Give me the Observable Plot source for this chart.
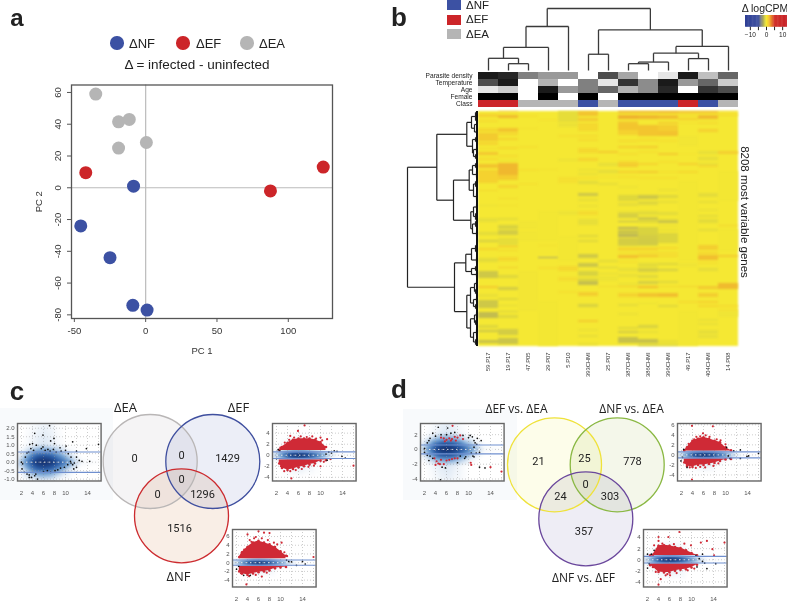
<!DOCTYPE html>
<html><head><meta charset="utf-8">
<script src="https://cdn.jsdelivr.net/npm/d3@7"></script>
<script src="https://cdn.jsdelivr.net/npm/@observablehq/plot@0.6"></script>
<style>
html,body{margin:0;padding:0;background:#fff}
#page{position:relative;width:787px;height:607px;overflow:hidden;font-family:"Liberation Sans",sans-serif;filter:blur(.3px)}
.t{position:absolute;white-space:nowrap;transform:translate(-50%,-50%);line-height:1}
#page svg{position:absolute;background:transparent;overflow:visible}
</style></head><body><div id="page"></div>
<script>
// ---------- panel a ----------
const pcNF=[[-8.5,1],[-45.5,-24],[-25,-44],[-9,-74],[1,-77]];
const pcEF=[[-42,9.5],[87.5,-2],[124.5,13]];
const pcEA=[[-35,59],[-11.5,43],[-19,41.5],[-19,25],[0.5,28.5]];
const classColor={NF:"#3c51a3",EF:"#cc2529",EA:"#b5b5b5"};

// ---------- panel b ----------
const samples=["59.P17","19.P17","47.P05","29.P07","5.P10","393CHMI","25.P07","387CHMI","386CHMI","396CHMI","49.P17","404CHMI","14.P08"];
const trackNames=["Parasite density","Temperature","Age","Female","Class"];
const parasite=[.9,.85,.5,.4,.4,0,.7,.35,0,.1,.9,.25,.6];
const temperature=[.7,.9,0,.3,0,.5,.1,.8,.45,.9,.4,.6,.2];
const age=[.1,.2,0,.9,.4,.5,.6,.3,.45,.85,0,.8,.7];
const female=[1,1,0,1,0,1,0,1,1,1,1,1,1];
const sampleClass=["EF","EF","EA","EA","EA","NF","EA","NF","NF","NF","EF","NF","EA"];
const heatDomain=[-13,-5,-3,-2,-1,0,1,2,3,5,13];
const heatRange=["#2e3f95","#3f51a0","#8e8e78","#aba85c","#d4d040","#f5e833","#f5d22e","#f0ad2c","#e8862c","#d2322b","#c62127"];
// stripes: [first row bin, last row bin, delta logCPM]; bins not listed are about 0
const s59P17=[[3,6,1.3],[9,11,.8],[17,21,1],[22,30,1.6],[31,34,1.2],[37,38,.8],[41,44,1.7],[47,49,.9],[53,57,1.8],[59,72,1.3],[79,80,1],[94,95,-.5],[107,111,-.6],[121,124,-.8],[129,131,-1.3],[137,139,1.2],[147,151,-.8],[160,167,-1.6],[175,177,1.6],[183,186,-.5],[189,197,-1.6],[201,207,-2],[214,217,-1],[219,221,-1.6],[229,232,-1.8]];
const s19P17=[[0,1,1.5],[4,7,2.2],[17,21,1.8],[22,24,1.2],[27,29,1.2],[36,38,1],[44,46,.8],[49,50,-.5],[52,64,2.3],[64,69,1.5],[74,77,1.2],[87,88,.8],[94,95,.5],[107,109,-.8],[114,118,-1.2],[119,124,-1.4],[127,134,-.7],[135,136,2],[139,140,1],[146,150,1],[156,157,1.4],[164,167,-1],[176,179,-1.4],[187,189,-1],[194,195,-.8],[200,201,-1.2],[204,207,-1],[218,224,-1.4],[227,233,-1.7]];
const s47P05=[[4,6,.6],[17,18,.6],[35,37,.5],[58,60,.6],[72,74,.4],[110,118,-.15],[120,130,-.15],[160,200,-.12]];
const s29P07=[[8,10,.3],[58,59,.5],[100,130,-.1],[134,135,.5],[146,147,-3.2],[156,158,.7],[190,235,-.08]];
const s5P10=[[0,11,-.7],[12,16,-.4],[24,26,.5],[48,50,-.4],[66,72,.6],[100,104,-.3],[125,150,-.1],[155,160,1],[166,170,.7],[180,182,.5]];
const s393=[[0,5,1.8],[7,10,1.6],[12,20,1],[24,26,.8],[28,30,.9],[37,42,1],[47,50,1.2],[58,60,-.4],[62,64,-.5],[66,68,.6],[70,73,-.8],[82,85,-1.6],[88,90,-.6],[94,96,-.4],[100,104,.8],[108,114,-.6],[124,126,-.9],[129,131,-.9],[143,147,-1.5],[152,156,-1.6],[160,165,-1.2],[167,170,-1],[170,174,-1.9],[181,185,1.4],[193,196,-1.2],[209,211,1.5],[218,220,-.4],[224,226,-.6],[232,234,-.5]];
const s25P07=[[40,42,1.5],[52,55,-.6],[59,62,-.7],[65,67,.3],[72,74,-.6],[149,151,-.8],[156,157,-1.2],[162,163,-.7],[165,170,-.3],[175,176,.8]];
const s387=[[0,2,2.2],[4,8,2.5],[10,12,1.4],[12,19,1.8],[19,24,1.3],[29,31,.8],[35,37,1.3],[42,44,.7],[50,52,1],[52,56,1.5],[60,62,1.3],[65,67,.6],[75,77,-.3],[84,90,-1],[92,95,-.7],[100,102,-.4],[102,107,-1.3],[110,111,-2.2],[116,118,-2.5],[119,124,-1.7],[124,126,-2.5],[127,133,-1.4],[133,135,-1.3],[137,139,1.6],[141,142,.9],[144,147,2],[150,152,.4],[157,160,-.6],[163,166,-.5],[172,174,-.4],[175,176,1.5],[182,186,1.2],[193,195,-.7],[202,204,-.4],[216,218,-.9],[220,222,-1.4],[226,232,-1.8]];
const s386=[[0,2,2.2],[4,8,2.3],[14,25,1.8],[28,30,.8],[35,37,1.5],[40,42,.6],[52,54,1.2],[60,62,1.5],[66,68,.5],[84,88,-1.6],[90,94,-.9],[100,104,-.8],[106,109,-1.5],[109,112,-.9],[116,124,-1.2],[124,128,-1.4],[128,134,-1.5],[134,135,-1],[137,139,1.5],[141,143,1],[144,146,1.8],[152,156,-.8],[157,161,-1.3],[164,167,-.9],[170,173,-1.3],[175,177,2],[182,186,1.8],[192,193,-.4],[214,217,-1.2],[220,222,-.5],[228,232,-1.8],[233,235,-1.2]];
const s396=[[0,2,2.4],[4,8,2],[11,13,1.5],[14,20,1.5],[20,25,1.9],[29,31,.5],[42,44,1.5],[50,52,.6],[60,62,.4],[66,68,.5],[78,80,-.4],[84,87,-1],[90,92,-.6],[101,104,-.8],[108,110,-1],[110,112,-1.9],[114,116,-.4],[118,120,-.5],[122,132,-1.1],[136,138,1],[141,143,.9],[144,146,1],[152,154,-1],[158,160,-1.3],[170,172,-.9],[175,176,1],[182,186,2],[194,196,-.9],[229,232,-.5],[233,235,-1]];
const s49P17=[[0,2,2],[4,5,1.3],[7,9,1.4],[11,13,.3],[25,35,-.15],[42,44,.2],[52,54,1.3],[60,62,1],[70,150,-.1],[152,156,-.2],[175,176,1.3],[190,192,.8],[200,235,-.1]];
const s404=[[0,2,2],[4,8,2.2],[11,13,.8],[18,21,1.3],[40,43,-.6],[46,49,-.7],[52,54,-.5],[54,56,1],[82,86,-.7],[90,92,-.6],[98,100,-.4],[104,106,-.8],[108,112,-.8],[118,120,-.8],[134,139,1.4],[141,143,1.2],[144,149,2],[151,153,.6],[157,160,-.7],[175,178,1.6],[182,186,1.4],[190,192,1.3],[194,196,1.1],[208,210,-.5],[212,214,-.5],[219,223,-.6],[224,227,-.6]];
const s14P08=[[0,1,.8],[3,5,.8],[40,43,1.4],[60,90,-.1],[114,115,1.2],[118,140,-.1],[144,146,1.5],[172,178,2.2],[194,196,.8],[198,200,.4],[200,206,-.2]];
const stripeColumns=[s59P17,s19P17,s47P05,s29P07,s5P10,s393,s25P07,s387,s386,s396,s49P17,s404,s14P08];
// column dendrogram: [height, left, right]; a number is a leaf column
const colTree=[61,
  [43.3,[22.7,[12,0,[6.7,1,2]],3],4],
  [40,[16,5,6],[23.7,[17,[8.3,[6.7,7,8],9],[11.7,10,11]],12]]];
// row dendrogram: [depth, upper, lower]; a number is a leaf row bin
const rowTree=[0,
 [29.3,
  [59.3,[64,[68,1,9],[67,13,[69,19,22]]],[65,[68,26,30],[66,[69,36,40],[68,43,47]]]],
  [46,
   [61.7,[65,[68,52,56],[69,60,66]],[66,[68,70,75],[69,82,88]]],
   [63.3,[66,[69,93,98],[68,102,108]],[65,[68,110,115],[69,120,124]]]]],
 [47,
  [58.3,[64,[68,134,140],[69,146,151]],[64,[68,155,159],[69,161,165]]],
  [59.3,[63,[67,[69,170,174],[68,178,182]],[66,[69,186,190],[68,193,197]]],
        [63,[67,[69,201,206],[68,209,213]],[66,[69,218,224],[68,228,233]]]]]];
const legendValues=d3.range(-13,13,.5);
const legendTicks=[-10,-5,0,5,10];

// ---------- panels c, d: MA plots ----------
const maTicksA=[2,4,6,8,10,14];
const maGridA=[2,4,6,8,10,12,14,16];
// density of the smoothed cloud (shared shape)
const densA=[0,2,3,4,5,6,7,8,9,10,11,12,13,18];
const densRel=[-3,-1,-.66,-.33,0,.33,.66,1,3];
const dens0=[0,.25,.55,.85,.98,1,.98,.9,.75,.55,.35,.15,.03,0];
const dens33=[0,.12,.35,.62,.78,.82,.78,.66,.48,.3,.14,.04,0,0];
const dens66=[0,.03,.12,.25,.35,.38,.35,.26,.16,.07,.02,0,0,0];
const dens100=[0,0,.02,.05,.08,.1,.08,.05,.02,0,0,0,0,0];
const densZero=[0,0,0,0,0,0,0,0,0,0,0,0,0,0];
const densRows=[densZero,dens100,dens66,dens33,dens0,dens33,dens66,dens100,densZero];

const c1Black=[[4.4,1.7],[5.9,1.6],[7.1,2.15],[7.9,1.4],[7.3,1.25],[8,1.1],[11.3,1.2],[16,1.05],[13.8,.8],[10.1,.95],[9,.85],[12,.65],[3.5,1.05],[4,1.1],[4.7,1],[3.7,.8],[4.2,.7],[3.3,.6],[5.6,.8],[5.9,.9],[6.3,.7],[6.8,.75],[7.2,.65],[7.8,.75],[8.3,.6],[9.2,.65],[10,.7],[10.5,.5],[11,.3],[12,.3],[2.7,.3],[3,.55],[2.2,-.1],[2.1,-.4],[2.5,-.6],[3,-.7],[3.4,-.75],[3.8,-.9],[4.4,-.8],[4.6,-.7],[4.9,-1],[3.4,-.9],[6,-.55],[6.7,-.5],[7.3,-.6],[8.1,-.5],[8.6,-.45],[9.1,-.35],[9.8,-.3],[10.4,-.15],[11,-.05],[11.3,-.15],[11.6,-.05],[12,-.3],[11.5,-.4],[10.9,.05],[12.5,.1],[14.4,.05],[13,.05],[2,0]];

const envA=[2.5,3,4,5,6,7,8,9,10,11];
const c2Upper=[1,1.5,2.2,2.8,3,3,3,2.8,2.4,1.5];
const c2Lower=[-1.5,-2.3,-2.7,-2.5,-2.2,-2,-1.7,-1.5,-1,-.9];
const c2Red=[[7.1,5.4],[5.9,4.4],[4.5,3.5],[11.2,2.9],[10,3.2],[4.7,-4.2],[16,-1.9],[10,-2],[11.8,-.7],[3.5,2.3],[4.3,2.8],[5.2,3.2],[6.4,3.4],[7.5,3.3],[8.5,3.4],[9.2,3],[10.3,2.7],[2.7,1.4],[2.8,-2],[3.4,-2.9],[4.5,-2.9],[5.5,-2.7],[6.6,-2.5],[7.8,-2.1],[8.8,-1.9],[10.6,-1.2]];
const c2Black=[[11.5,.6],[12,.4],[12.5,.8],[13,.7],[11,.2],[14.5,-.5],[11.2,-.9],[2.3,1],[2.6,.8],[2,-.6],[13.9,-.2]];

const c3Upper=[1.3,2.4,3.6,4.6,5,4.6,4.2,3.6,2.6,1.6];
const c3Lower=[-2,-2.5,-2.8,-2.5,-2.2,-2,-1.8,-1.3,-1.1,-1];
const c3Red=[[4,6.5],[6,7.2],[7,6.9],[8,6.8],[4.4,5.2],[5.2,5.6],[10.2,4.6],[16,1.3],[3.8,-5],[6.6,-3.2],[3,-2.5],[5.5,5.9],[6.6,5.6],[7.7,5.2],[8.8,4.6],[9.4,4.2],[3.4,3],[4.7,4.8],[10.7,2.4],[11.2,1.5],[2.8,-2.4],[4.3,-3.1],[5.5,-2.8],[7.5,-2.3]];
const c3Black=[[2,-1.5],[11.5,.3],[12,.2],[14,.3],[14.5,-.3],[12.9,-.6],[3.3,-2.9],[4.5,-2.9],[11.1,.6],[2.4,-.8]];

const d1Red=[[5,1.6],[5.5,1.5],[6,1.3],[6.5,1.5],[7,1.4],[7.5,1.7],[8,1.6],[8.5,1.9],[5.7,1.1],[6.8,1.2],[7.7,1.2],[9,1.4],[7.1,3.2],[3.8,-1.2],[4.2,-1.6],[4.5,-1.9],[5,-1.4],[5.5,-2],[6,-1.5],[6.5,-1.4],[7,-1.3],[7.5,-1.2],[8,-1.2],[4,-2.1],[4.8,-2],[10.4,-1.8],[10.5,-2.1],[14,-2.4],[16,-3]];
const d1Black=[[4.5,3],[6.2,2.9],[3.5,2.2],[3,1.5],[4,1.8],[5,2],[2.5,.9],[2.5,-.8],[2.8,-1.5],[3,-.9],[3.5,-1.2],[9,1.9],[10,1.6],[10.7,1.7],[11,1.2],[11.2,.9],[11.5,.7],[11,.3],[10.5,-.5],[10.8,-.9],[11.4,-.5],[12,-.4],[11,-1],[9.5,-1],[8.5,-.9],[4.9,-4.1],[5.2,-2.4],[5.8,-2.5],[12,-2.4],[13,-2.5],[9.3,-1.2],[8,-1.8],[2,-.4],[2,.1],[2.8,1.2],[12.3,1.2],[6.8,2.2],[6,2],[7.5,2.3],[10.3,1.9],[11.6,1.5]];

const d2Upper=[.9,1.5,2.8,3.2,3.5,3.2,2.8,2.5,1.5,.9];
const d2Lower=[-1.5,-2.2,-2.4,-2,-2,-1.8,-1.6,-1.2,-.9,-.8];
const d2Red=[[3.9,-4.9],[3.9,5.8],[7.7,5.7],[5.9,4.3],[4.3,3.1],[5.1,3.1],[7.5,2.8],[8.4,3.1],[10,2.1],[6.3,-2.5],[7.8,-2.2],[3.3,2.2],[4.7,3.6],[5.4,3.7],[6.4,3.9],[7.1,3.6],[9.1,2.9],[3.5,-2.5],[4.6,-2.6],[5.4,-2.4],[8.7,-1.7]];
const d2Black=[[2.4,1.1],[10.2,1.5],[12.7,1],[11.5,.8],[10.5,-.2],[10.8,-.7],[12.7,-.7],[13.9,-.3],[14.2,-.2],[16,.3],[1.9,-1.2],[3,-2.5],[2.2,-.5]];

const d3Upper=[.8,.9,2.5,2.6,2.5,2.3,2.1,1.7,1.2,.8];
const d3Lower=[-1,-1.3,-2.2,-2.3,-2.3,-2,-1.8,-1.7,-1.4,-.9];
const d3Red=[[4,4.1],[4,3.4],[5.8,4.1],[7.8,5],[3.2,2.6],[4.7,2.9],[6.8,2.8],[8.7,2.9],[9.9,2.6],[11.7,3.1],[12.8,3.4],[13.8,1.9],[14.1,.8],[16,3.1],[4,-4.5],[6.1,-2.8],[4.4,-3.5],[5.6,-2.6],[9.3,-1.9],[10.5,-1.6],[3.5,-2.2],[5.3,-2.8],[7.3,-2.4]];
const d3Black=[[2,1],[2.3,-.7],[2,-1.5],[10.8,.8],[12,1],[11.4,.2],[12,-.3],[12.4,-.6],[11,-1.3],[12.8,-1.6],[14.4,-.7],[2.7,1],[3.2,1.7]];

// ---------- venn diagrams ----------
const vennR=47;
const vennCX=[149.7,212.3,181], vennCY=[81,81,135.3];
const vennCFill=["#f5f4f5","#eceef7","#f9eee6"], vennCStroke=["#b9b6b6","#3f4f9f","#cc2b2f"];
const vennCLabels=["ΔEA","ΔEF","ΔNF"], vennCLX=[125,238,178], vennCLY=[27,27,196];
const vennCNums=["0","0","1429","0","0","1296","1516"];
const vennCNX=[134,181,227,181,157,202,179], vennCNY=[78,75,78,99,114,114,148];
const vennDCX=[154,216.7,185.3], vennDCY=[84.3,84.3,138.3];
const vennDFill=["#fdfdea","#f4f7ea","#eeedf5"], vennDStroke=["#efe23a","#8ab843","#6a479c"];
const vennDLabels=["ΔEF vs. ΔEA","ΔNF vs. ΔEA","ΔNF vs. ΔEF"], vennDLX=[116,231,183], vennDLY=[29,29,198];
const vennDNums=["21","25","778","0","24","303","357"];
const vennDNX=[138,184,232,185,160,209.5,183.5], vennDNY=[81,77.5,81,103.5,116,116,151];

// ---------- helpers ----------
const page=document.getElementById("page");
const hy=d=>String(d);
function put(svg,left,top){svg.style.left=left+"px";svg.style.top=top+"px";page.appendChild(svg);return svg;}
function soften(svg,label,px){svg.querySelectorAll(`g[aria-label="${label}"]`).forEach(g=>g.style.filter=`blur(${px}px)`);return svg;}
function txt(s,x,y,size,o={}){const e=document.createElement("div");e.className="t";e.textContent=s;
  e.style.left=x+"px";e.style.top=y+"px";e.style.fontSize=size+"px";e.style.color=o.color||"#222";
  if(o.font)e.style.fontFamily=o.font;if(o.weight)e.style.fontWeight=o.weight;
  if(o.anchor==="start")e.style.transform="translate(0,-50%)";
  if(o.rotate)e.style.transform=`translate(-50%,-50%) rotate(${o.rotate}deg)`;
  page.appendChild(e);return e;}
function box(x,y,w,h,c,round){const e=document.createElement("div");
  e.style.cssText=`position:absolute;left:${x}px;top:${y}px;width:${w}px;height:${h}px;background:${c};${round?"border-radius:50%;":""}`;page.appendChild(e);return e;}
const toPts=a=>a.map(([x,y])=>({x,y}));

// panel letters
txt("a",17,18,24,{weight:"bold"});txt("b",399,17,26,{weight:"bold"});txt("c",17,391,26,{weight:"bold"});txt("d",399,389,26,{weight:"bold"});

// ---------- panel a ----------
[["ΔNF","NF",117,129],["ΔEF","EF",183,196],["ΔEA","EA",247,259]].forEach(([l,c,dx,tx])=>{
  box(dx-6.7,43-6.7,13.4,13.4,classColor[c],true);txt(l,tx,43,13,{anchor:"start"});});
txt("Δ = infected - uninfected",197,65,13.5);
const pcData=[...pcEA.map(p=>({p,c:"EA"})),...pcEF.map(p=>({p,c:"EF"})),...pcNF.map(p=>({p,c:"NF"}))];
put(Plot.plot({width:345,height:290,marginLeft:71,marginRight:13,marginTop:14.5,marginBottom:42,
  style:{fontFamily:"Liberation Sans",fontSize:"9.5px",color:"#333"},
  x:{domain:[-52,131]},y:{domain:[-82.3,64.7]},
  marks:[
    Plot.ruleX([0],{stroke:"#bbb",strokeWidth:1.2}),
    Plot.ruleY([0],{stroke:"#bbb",strokeWidth:1.2}),
    Plot.dot(pcData,{x:d=>d.p[0],y:d=>d.p[1],r:6.5,fill:d=>classColor[d.c]}),
    Plot.frame({stroke:"#555",strokeWidth:1.3}),
    Plot.axisX([-50,0,50,100],{tickSize:4,tickPadding:5,fontSize:9.5,tickFormat:hy,label:"PC 1",labelAnchor:"center",labelOffset:35,labelArrow:"none",stroke:"#555"}),
    Plot.axisY([-80,-60,-40,-20,0,20,40,60],{tickSize:4,tickPadding:7,fontSize:9.5,tickFormat:hy,tickRotate:-90,label:"PC 2",labelAnchor:"center",labelOffset:36,labelArrow:"none",stroke:"#555"})
  ]}),0,70);

// ---------- panel b ----------
[["ΔNF","NF",0,6],["ΔEF","EF",15,20],["ΔEA","EA",29.3,34.5]].forEach(([l,c,y,ty])=>{
  box(446.7,y,14,10,classColor[c]);txt(l,466,ty,11.5,{anchor:"start"});});
// column dendrogram
function layoutCols(n,segs){if(typeof n==="number")return {x:n,h:0};
  const a=layoutCols(n[1],segs),b=layoutCols(n[2],segs),h=n[0];
  segs.push({x1:a.x,x2:a.x,y1:a.h,y2:h},{x1:b.x,x2:b.x,y1:b.h,y2:h},{x1:a.x,x2:b.x,y1:h,y2:h});
  return {x:(a.x+b.x)/2,h};}
const colSegs=[];layoutCols(colTree,colSegs);
put(Plot.plot({width:260,height:62,marginLeft:0,marginRight:0,marginTop:0,marginBottom:0,
  x:{domain:[-.5,12.5],axis:null},y:{domain:[0,61],axis:null},
  marks:[Plot.link(colSegs,{x1:"x1",x2:"x2",y1:"y1",y2:"y2",stroke:"#3a3a3a",strokeWidth:1.3,curve:"linear"})]}),478,7.5);
// annotation tracks
const greyOf=g=>d3.interpolateRgb("#ffffff","#000000")(g);
const tracks=[];
[parasite,temperature,age,female].forEach((a,i)=>a.forEach((g,j)=>tracks.push({x:samples[j],y:trackNames[i],c:greyOf(g)})));
sampleClass.forEach((c,j)=>tracks.push({x:samples[j],y:"Class",c:classColor[c]}));
put(Plot.plot({width:340,height:36,marginLeft:80,marginRight:0,marginTop:0,marginBottom:0,
  style:{fontFamily:"Liberation Sans",fontSize:"6.6px",color:"#222"},
  x:{type:"band",domain:samples,padding:0,axis:null},y:{type:"band",domain:trackNames,padding:0,label:null},
  marks:[Plot.cell(tracks,{x:"x",y:"y",fill:d=>d.c}),
         Plot.axisY({tickSize:0,tickPadding:6,fontSize:6.6,label:null})]}),398,71.3);
// heat map
const heatColor={type:"linear",domain:heatDomain,range:heatRange,interpolate:"rgb"};
const stripes=stripeColumns.flatMap((c,i)=>c.map(([a,b,v])=>({s:samples[i],a,b,v})));
soften(put(Plot.plot({width:260,height:262,marginLeft:0,marginRight:0,marginTop:0,marginBottom:27,
  style:{fontFamily:"Liberation Sans",fontSize:"5.8px",color:"#333"},
  color:heatColor,
  x:{type:"band",domain:samples,padding:0,label:null},y:{domain:[0,235],reverse:true,axis:null},
  marks:[
    Plot.barY(samples,{x:d=>d,y1:()=>0,y2:()=>235,fill:()=>0}),
    Plot.barY(stripes,{x:"s",y1:"a",y2:"b",fill:"v",fillOpacity:.68}),
    Plot.axisX({tickSize:0,tickPadding:6,fontSize:5.8,tickRotate:-90,label:null})
  ]}),478,111),"bar",.8);
// row dendrogram
function layoutRows(n,segs){if(typeof n==="number"){return {y:n,d:70};}
  const a=layoutRows(n[1],segs),b=layoutRows(n[2],segs),d=n[0];
  segs.push({x1:a.d,x2:d,y1:a.y,y2:a.y},{x1:b.d,x2:d,y1:b.y,y2:b.y},{x1:d,x2:d,y1:a.y,y2:b.y});
  return {y:(a.y+b.y)/2,d};}
const rowSegs=[];layoutRows(rowTree,rowSegs);
put(Plot.plot({width:70,height:235,margin:0,
  x:{domain:[0,70],axis:null},y:{domain:[0,235],reverse:true,axis:null},
  marks:[Plot.link(rowSegs,{x1:"x1",x2:"x2",y1:"y1",y2:"y2",stroke:"#222",strokeWidth:1.2,curve:"linear"}),
         Plot.ruleX([69.5],{stroke:"#111",strokeWidth:2})]}),407,111);
txt("8208 most variable genes",744,212,11.5,{rotate:90});
// color key
txt("Δ logCPM",765,8,10.5);
put(Plot.plot({width:42,height:27,marginLeft:0,marginRight:0,marginTop:0,marginBottom:15.3,
  style:{fontFamily:"Liberation Sans",fontSize:"6.5px",color:"#222"},
  color:heatColor,x:{domain:[-13,13]},
  marks:[Plot.rect(legendValues,{x1:d=>d,x2:d=>Math.min(13,d+.8),fill:d=>d}),
    Plot.axisX(legendTicks,{tickSize:3.5,tickPadding:2,fontSize:6.5,label:null,tickFormat:d=>d%10===0?(d<0?"−"+(-d):d):""})]}),745,15);

// ---------- MA plots ----------
const maStyle={fontFamily:"Liberation Sans",fontSize:"6px",color:"#555"};
function maPlot({left,top,yDomain,yTicks,fmt=hy,spread,upper,lower,red=[],black,line,inner}){
  const dens=[];densRows.forEach((row,i)=>row.forEach((v,j)=>dens.push({a:densA[j],m:densRel[i]*spread,v})));
  const marks=[
    Plot.raster(dens,{x:"a",y:"m",fill:"v",interpolate:"barycentric",pixelSize:1}),
    Plot.gridX(maGridA,{stroke:"#999",strokeOpacity:.5,strokeDasharray:"1 2"}),
    Plot.gridY(yTicks,{stroke:"#999",strokeOpacity:.5,strokeDasharray:"1 2"})
  ];
  if(upper){
    const u=envA.map((a,i)=>({a,y:upper[i]})), l=envA.map((a,i)=>({a,y:lower[i]}));
    marks.push(Plot.areaY(u,{x:"a",y1:()=>inner,y2:"y",fill:"#cf2a36"}),
               Plot.areaY(l,{x:"a",y1:()=>-inner,y2:"y",fill:"#cf2a36"}),
               Plot.dot([...u,...l],{x:"a",y:"y",r:1.3,fill:"#cf2a36"}));
  }
  marks.push(
    Plot.ruleY([0],{stroke:"#fff",strokeOpacity:.8,strokeDasharray:"1.5 3"}),
    Plot.dot(toPts(red),{x:"x",y:"y",r:1.1,fill:"#cf2a36"}),
    Plot.dot(toPts(black),{x:"x",y:"y",r:.85,fill:"#111"}),
    Plot.ruleY([line,-line],{stroke:"#6f8fcf",strokeWidth:1.1}),
    Plot.frame({stroke:"#666",strokeWidth:1.4}),
    Plot.axisX(maTicksA,{tickSize:0,tickPadding:10,fontSize:6,tickFormat:hy,label:null}),
    Plot.axisY(yTicks,{tickSize:0,tickPadding:3,fontSize:6,tickFormat:fmt,label:null}));
  soften(put(Plot.plot({width:83.6+17,height:57.5+20,marginLeft:17,marginRight:0,marginTop:0,marginBottom:20,style:maStyle,
    color:{type:"linear",domain:[0,.12,.4,.75,1],range:["#ffffff","#d5e3f2","#6f9fd2","#2a5ca6","#14306f"],interpolate:"rgb"},
    x:{domain:[1.27,16.47]},y:{domain:yDomain},marks}),left-17,top),"raster",1);
}
box(0,408,113,92,"#f8fafc");box(403,409,114,91,"#f8fafc");
maPlot({left:16.7,top:422.7,yDomain:[-1.11,2.28],yTicks:[-1,-.5,0,.5,1,1.5,2],fmt:d=>d.toFixed(1),spread:1.05,black:c1Black,line:.6});
maPlot({left:272.3,top:422.7,yDomain:[-4.67,5.75],yTicks:[-4,-2,0,2,4],spread:1.3,upper:c2Upper,lower:c2Lower,red:c2Red,black:c2Black,line:.6,inner:.85});
maPlot({left:232.3,top:529,yDomain:[-5.58,7.62],yTicks:[-4,-2,0,2,4,6],spread:1.1,upper:c3Upper,lower:c3Lower,red:c3Red,black:c3Black,line:.6,inner:.9});
maPlot({left:420.3,top:422.7,yDomain:[-4.27,3.51],yTicks:[-4,-2,0,2],spread:2.2,red:d1Red,black:d1Black,line:.6});
maPlot({left:677,top:422.7,yDomain:[-5.2,6.26],yTicks:[-4,-2,0,2,4,6],spread:1.2,upper:d2Upper,lower:d2Lower,red:d2Red,black:d2Black,line:.6,inner:.8});
maPlot({left:643,top:529.3,yDomain:[-4.91,5.45],yTicks:[-4,-2,0,2,4],spread:1.2,upper:d3Upper,lower:d3Lower,red:d3Red,black:d3Black,line:.6,inner:.75});

// ---------- venns ----------
function venn(cx,cy,fills,strokes,labels,lx,ly,nums,nx,ny,left,top,w,labelSize){
  const v=cx.map((x,i)=>({x,y:cy[i],f:fills[i],s:strokes[i]}));
  const L=labels.map((t,i)=>({t,x:lx[i],y:ly[i]})), N=nums.map((t,i)=>({t,x:nx[i],y:ny[i]}));
  put(Plot.plot({width:w,height:227,margin:0,x:{domain:[0,w],axis:null},y:{domain:[0,227],reverse:true,axis:null},
    style:{fontFamily:"Open Sans",color:"#222"},
    marks:[
      Plot.dot(v,{x:"x",y:"y",r:vennR,fill:d=>d.f,mixBlendMode:"multiply"}),
      Plot.dot(v,{x:"x",y:"y",r:vennR,stroke:d=>d.s,strokeWidth:1.3}),
      Plot.text(L,{x:"x",y:"y",text:"t",fontSize:labelSize,fill:"#222"}),
      Plot.text(N,{x:"x",y:"y",text:"t",fontSize:11,fontFamily:"Roboto",fill:"#222"})
    ]}),left,top);
}
venn(vennCX,vennCY,vennCFill,vennCStroke,vennCLabels,vennCLX,vennCLY,vennCNums,vennCNX,vennCNY,0,380,280,13);
venn(vennDCX,vennDCY,vennDFill,vennDStroke,vennDLabels,vennDLX,vennDLY,vennDNums,vennDNX,vennDNY,400,380,280,12);
</script></body></html>
